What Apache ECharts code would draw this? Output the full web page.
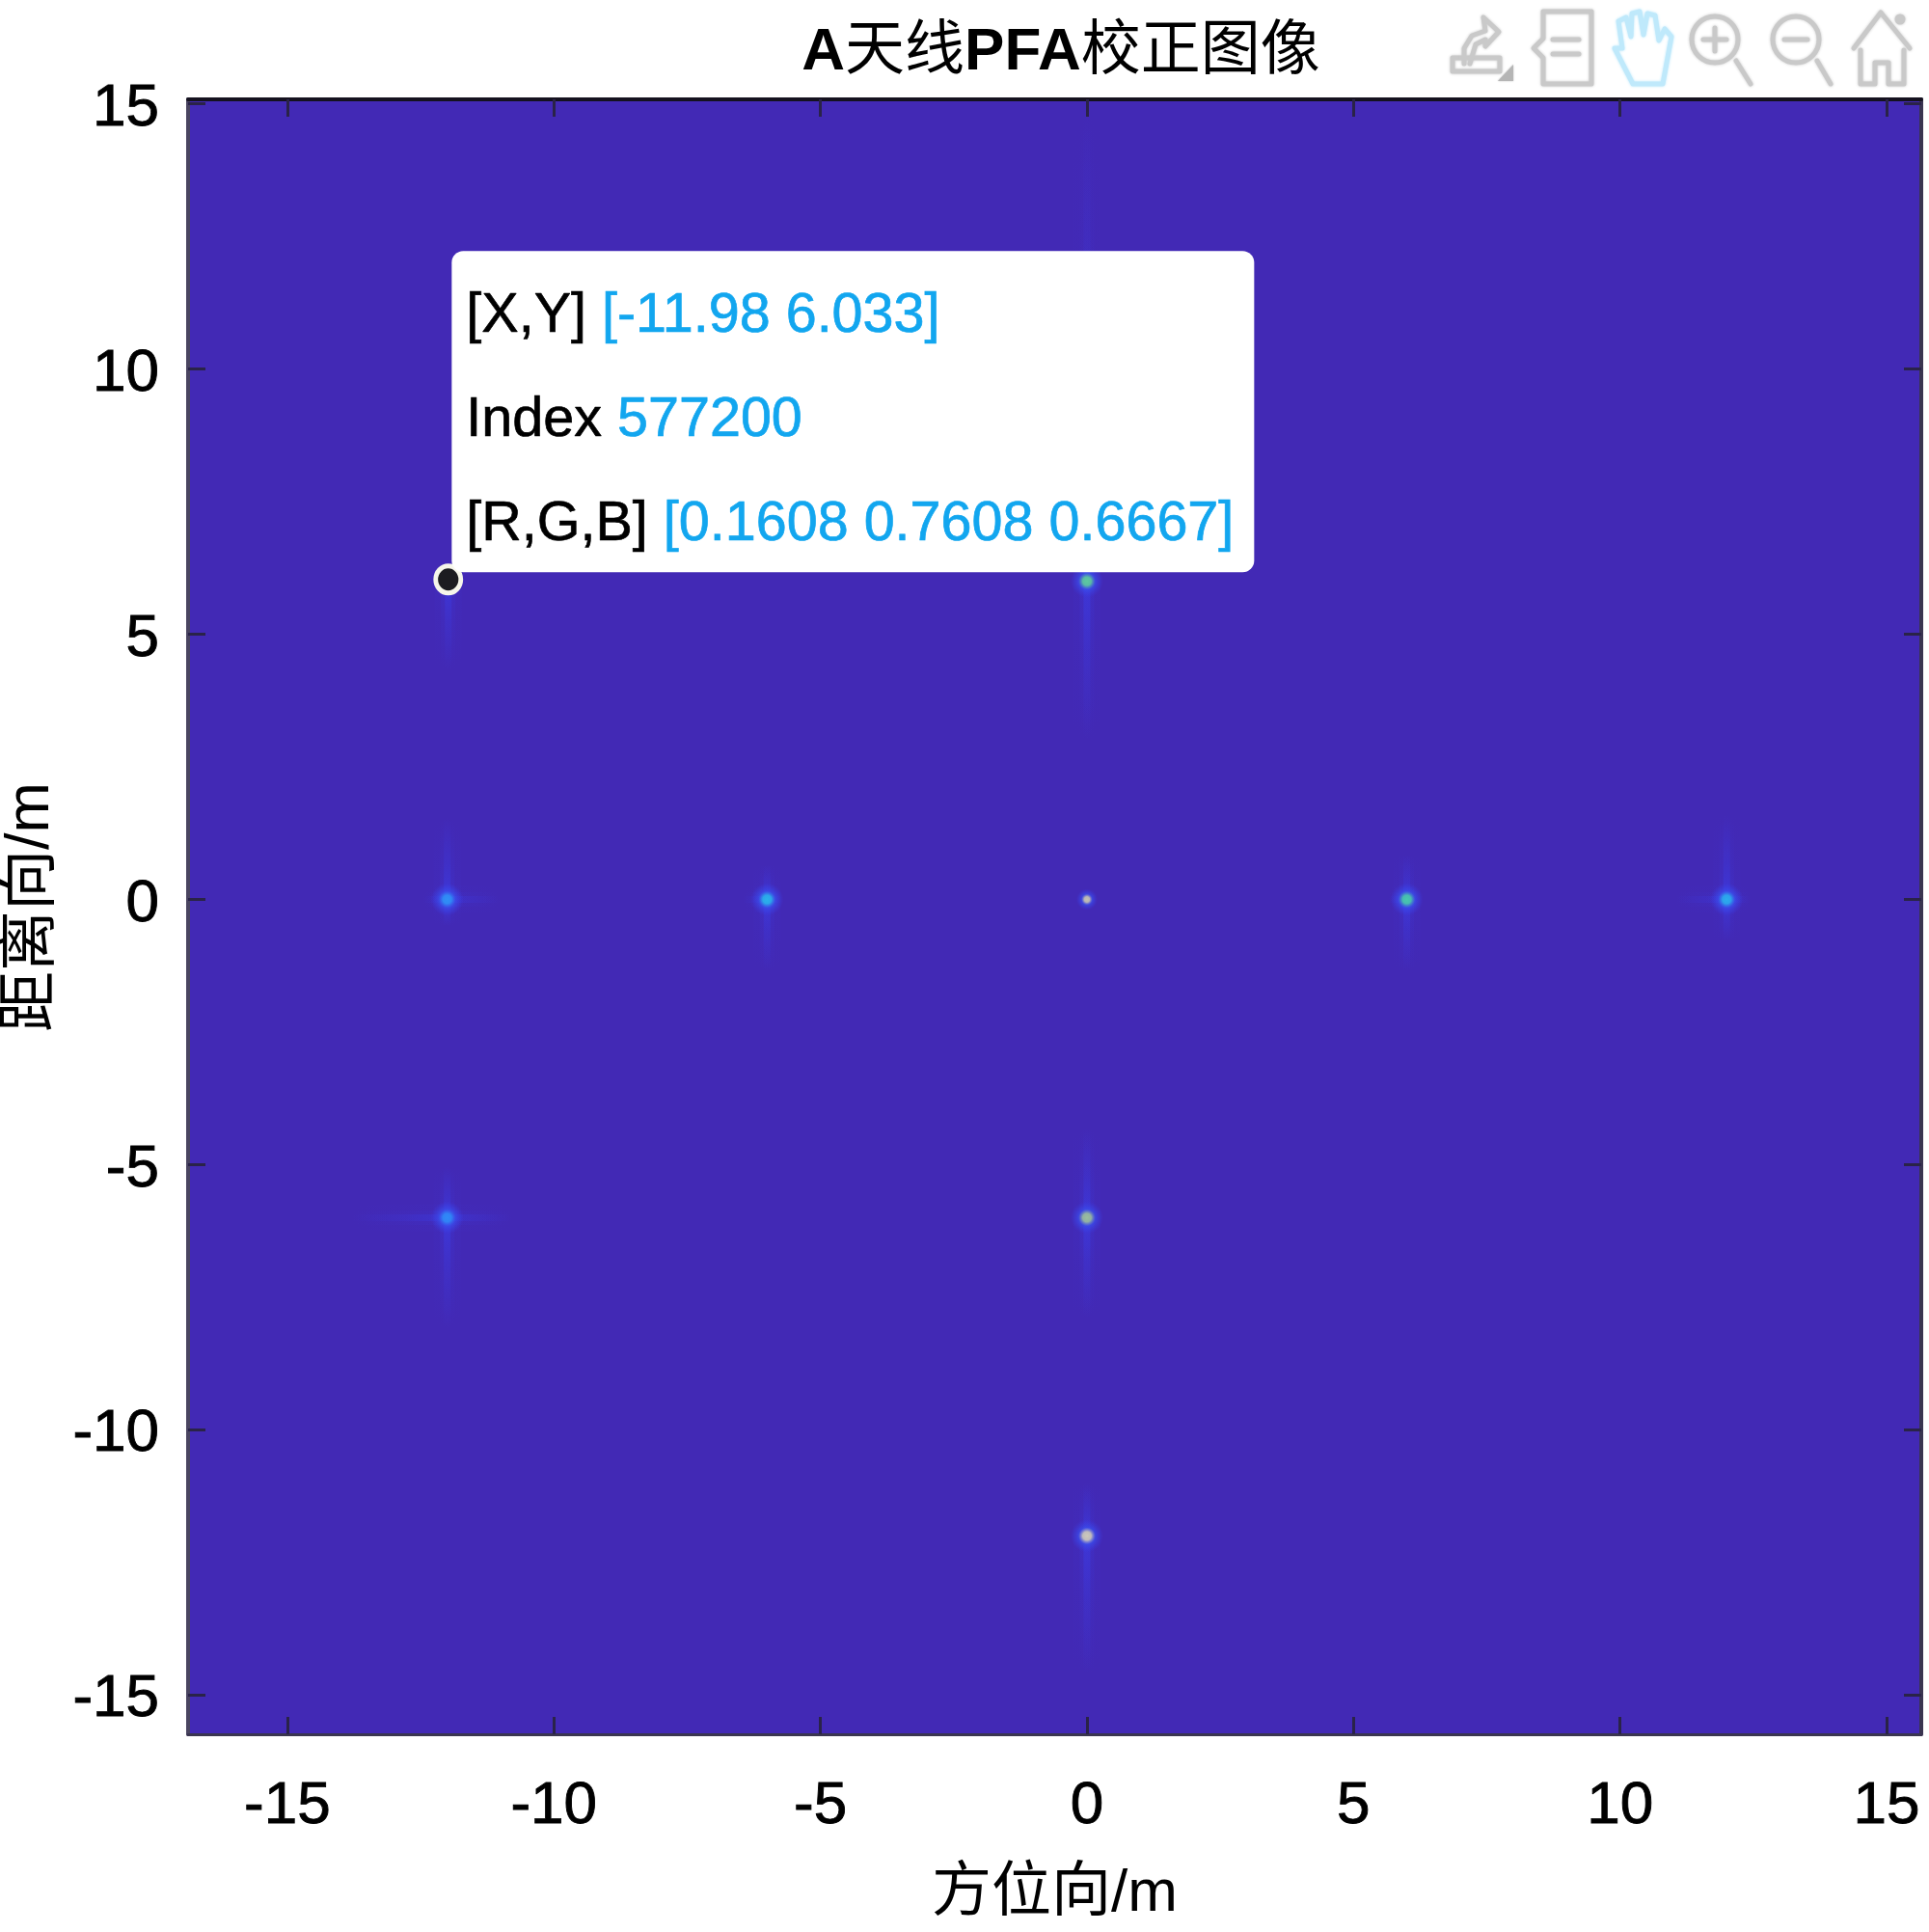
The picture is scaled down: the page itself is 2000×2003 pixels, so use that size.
<!DOCTYPE html>
<html>
<head>
<meta charset="utf-8">
<title>A天线PFA校正图像</title>
<style>html,body{margin:0;padding:0;background:#fff}#chart{width:2000px;height:2003px}</style>
<script src="https://cdn.jsdelivr.net/npm/echarts@6/dist/echarts.min.js"></script>
</head>
<body>
<div id="chart"></div>
<script>
// ---- values ----
const xTicks = [-15, -10, -5, 0, 5, 10, 15];
const yTicks = [-15, -10, -5, 0, 5, 10, 15];
const targetX = [-12, -6, 0, 6, 12, -12, 0, 0, 0, -11.98];
const targetY = [0, 0, 0, 0, 0, -6, -6, -12, 6, 6.033];
const targetLevel = [0.3, 0.42, 0.92, 0.6, 0.4, 0.28, 0.8, 0.95, 0.65, 0.5];
// side-lobe extents from each target, in metres
const lobeUp = [1.55, 0.65, 0, 0.85, 1.6, 0.97, 1.7, 1.0, 8.9, 0];
const lobeDown = [0.5, 1.35, 0, 1.35, 0.8, 2.1, 1.9, 2.6, 3.0, 1.7];
const lobeLeft = [0.45, 0.45, 0, 0.35, 0.95, 1.8, 0, 0.2, 0, 0];
const lobeRight = [1.0, 0.27, 0, 0.2, 0.45, 1.23, 0, 0.2, 0, 0];
const tipX = -11.98;
const tipY = 6.033;
const tipIndex = 577200;
const tipRGB = '0.1608 0.7608 0.6667';

const FONT = "'Liberation Sans','Noto Sans CJK SC',sans-serif";
const BG = '#4229b5';
const palette = ['#3e26a8', '#3a5cf0', '#2f8cf8', '#2ab4ea', '#3cc8b4', '#78cc90', '#b0b4a8', '#dcd4c4'];

function hexRgb(h) { return [1, 3, 5].map(i => parseInt(h.substr(i, 2), 16)); }
function levelColor(v, alpha) {
  const p = Math.min(0.999, v) * (palette.length - 1), i = Math.floor(p), f = p - i;
  const a = hexRgb(palette[i]), b = hexRgb(palette[i + 1]);
  const c = a.map((k, n) => Math.round(k + (b[n] - k) * f));
  return 'rgba(' + c.join(',') + ',' + alpha + ')';
}
const LOBE = '58,62,235';
function lobe(x, y, w, h, vertical, towardStart, alpha) {
  const stops = towardStart
    ? [{ offset: 0, color: 'rgba(' + LOBE + ',0)' }, { offset: 0.6, color: 'rgba(' + LOBE + ',' + alpha * 0.5 + ')' }, { offset: 1, color: 'rgba(' + LOBE + ',' + alpha + ')' }]
    : [{ offset: 0, color: 'rgba(' + LOBE + ',' + alpha + ')' }, { offset: 0.4, color: 'rgba(' + LOBE + ',' + alpha * 0.5 + ')' }, { offset: 1, color: 'rgba(' + LOBE + ',0)' }];
  const fill = vertical ? new echarts.graphic.LinearGradient(0, 0, 0, 1, stops) : new echarts.graphic.LinearGradient(0, 0, 1, 0, stops);
  return { type: 'rect', shape: { x, y, width: w, height: h }, style: { fill } };
}
const targets = targetX.map((x, i) => [x, targetY[i], targetLevel[i], lobeUp[i], lobeDown[i], lobeLeft[i], lobeRight[i]]);

function renderTarget(params, api) {
  const x = api.value(0), y = api.value(1), lv = api.value(2);
  const c = api.coord([x, y]);
  const up = api.coord([x, y + api.value(3)])[1];
  const down = api.coord([x, y - api.value(4)])[1];
  const left = api.coord([x - api.value(5), y])[0];
  const right = api.coord([x + api.value(6), y])[0];
  const kids = [];
  const layers = [[28, 0.07], [15, 0.17], [7, 0.5]];
  layers.forEach(([w, a]) => {
    if (up < c[1]) kids.push(lobe(c[0] - w / 2, up, w, c[1] - up, true, true, a));
    if (down > c[1]) kids.push(lobe(c[0] - w / 2, c[1], w, down - c[1], true, false, a));
    if (left < c[0]) kids.push(lobe(left, c[1] - w / 2, c[0] - left, w, false, true, a * 0.7));
    if (right > c[0]) kids.push(lobe(c[0], c[1] - w / 2, right - c[0], w, false, false, a * 0.7));
  });
  const hasLobes = up < c[1] || down > c[1];
  const halo = hasLobes ? 17 : 11;
  kids.push({
    type: 'circle', shape: { cx: c[0], cy: c[1], r: halo },
    style: {
      fill: new echarts.graphic.RadialGradient(0.5, 0.5, 0.5, [
        { offset: 0, color: levelColor(lv, 1) },
        { offset: 0.26, color: levelColor(lv, 0.9) },
        { offset: 0.52, color: 'rgba(58,80,240,0.65)' },
        { offset: 1, color: 'rgba(58,62,235,0)' }
      ])
    }
  });
  return { type: 'group', children: kids };
}

// toolbar decoration
const GREY = '#c9c9c9', HAND = '#bfe9fb';
function stroke(color, w) { return { stroke: color, fill: null, lineWidth: w || 5, shadowBlur: 3, shadowColor: color, lineCap: 'round', lineJoin: 'round' }; }
function line(pts, color, w) { return { type: 'polyline', silent: true, shape: { points: pts }, style: stroke(color, w) }; }
function ring(cx, cy, r) { return { type: 'circle', silent: true, shape: { cx, cy, r }, style: stroke(GREY) }; }
const toolbar = [
  // insert legend / brush
  line([[1506, 60], [1555, 60], [1555, 74], [1506, 74], [1506, 60]], GREY),
  { type: 'polygon', silent: true, shape: { points: [[1569, 67], [1569, 84], [1553, 84]] }, style: { fill: '#b5b5b5', shadowBlur: 2, shadowColor: '#b5b5b5' } },
  line([[1518, 66], [1518, 50], [1526, 37], [1540, 32], [1538, 18], [1554, 33], [1540, 48], [1540, 41], [1530, 46], [1524, 66]], GREY),
  // data cursor note
  line([[1600, 12], [1650, 12], [1650, 87], [1600, 87], [1600, 60], [1590, 50], [1600, 40], [1600, 12]], GREY),
  line([[1610, 41], [1637, 41]], GREY), line([[1610, 56], [1637, 56]], GREY),
  // hand
  line([[1693, 87], [1724, 87], [1733, 38], [1726, 30], [1720, 42], [1716, 16], [1708, 14], [1704, 36], [1700, 12], [1692, 14], [1691, 38], [1686, 18], [1678, 22], [1682, 50], [1674, 50], [1693, 87]], HAND),
  // zoom in
  ring(1778, 41, 24), line([[1800, 63], [1815, 87]], GREY), line([[1766, 41], [1790, 41]], GREY), line([[1778, 29], [1778, 53]], GREY),
  // zoom out
  ring(1862, 41, 24), line([[1884, 63], [1898, 87]], GREY), line([[1850, 41], [1874, 41]], GREY),
  // home
  line([[1922, 50], [1950, 13], [1980, 50]], GREY),
  line([[1929, 52], [1929, 87], [1944, 87], [1944, 65], [1958, 65], [1958, 87], [1974, 87], [1974, 52]], GREY),
  ring(1970, 20, 3)
];

const DARK = '#2a2348';
const boldish = { textBorderColor: '#000', textBorderWidth: 0.9 };
const option = {
  animation: false,
  backgroundColor: '#fff',
  title: {
    text: '{l|A}{c|天线}{l|PFA}{c|校正图像}',
    left: 1095, top: 19, textAlign: 'center',
    textStyle: {
      rich: {
        l: { fontFamily: FONT, fontWeight: 'bold', fontSize: 62, color: '#000' },
        c: { fontFamily: FONT, fontWeight: 'normal', fontSize: 62, color: '#000' }
      }
    }
  },
  grid: { left: 195, right: 8, top: 103, bottom: 205, show: true, backgroundColor: BG, borderWidth: 0, containLabel: false, outerBoundsMode: 'none' },
  xAxis: [{
    type: 'value', min: -16.86, max: 15.65, position: 'bottom',
    name: '方位向/m', nameLocation: 'middle', nameGap: 135,
    nameTextStyle: { fontFamily: FONT, fontSize: 62, color: '#000' },
    axisLine: { show: true, onZero: false, lineStyle: { color: '#3a3550', width: 3 } },
    axisTick: { show: true, inside: true, length: 18, lineStyle: { color: DARK, width: 3 }, customValues: xTicks },
    axisLabel: Object.assign({ show: true, customValues: xTicks, fontFamily: FONT, fontSize: 62, color: '#000', margin: 44 }, boldish),
    splitLine: { show: false }
  }, {
    type: 'value', min: -16.86, max: 15.65, position: 'top',
    axisLine: { show: true, onZero: false, lineStyle: { color: '#15121f', width: 4 } },
    axisTick: { show: true, inside: true, length: 18, lineStyle: { color: DARK, width: 3 }, customValues: xTicks },
    axisLabel: { show: false }, splitLine: { show: false }
  }],
  yAxis: [{
    type: 'value', min: -15.74, max: 15.085, position: 'left',
    name: '距离向/m', nameLocation: 'middle', nameRotate: 90, nameGap: 129,
    nameTextStyle: { fontFamily: FONT, fontSize: 63, color: '#000', padding: [0, 0, 0, 20] },
    axisLine: { show: true, onZero: false, lineStyle: { color: '#4a4560', width: 4 } },
    axisTick: { show: true, inside: true, length: 18, lineStyle: { color: DARK, width: 3 }, customValues: yTicks },
    axisLabel: {
      show: true, customValues: yTicks, margin: 30,
      formatter: v => '{a|' + v + '}',
      rich: { a: Object.assign({ fontFamily: FONT, fontSize: 62, color: '#000', padding: [10, 0, 0, 0] }, boldish) }
    },
    splitLine: { show: false }
  }, {
    type: 'value', min: -15.74, max: 15.085, position: 'right',
    axisLine: { show: true, onZero: false, lineStyle: { color: '#3a3550', width: 4 } },
    axisTick: { show: true, inside: true, length: 18, lineStyle: { color: DARK, width: 3 }, customValues: yTicks },
    axisLabel: { show: false }, splitLine: { show: false }
  }],
  series: [{
    type: 'custom', name: 'targets', xAxisIndex: 0, yAxisIndex: 0, clip: true, silent: true,
    renderItem: renderTarget, encode: { x: 0, y: 1 }, data: targets, z: 2
  }, {
    type: 'scatter', name: 'data tip', xAxisIndex: 0, yAxisIndex: 0, z: 5, silent: true,
    symbol: 'circle', symbolSize: [26, 28],
    itemStyle: { color: '#1c1c20', borderColor: '#f6f6ea', borderWidth: 5, opacity: 1 },
    data: [[tipX, tipY]],
    label: {
      show: true,
      position: [19, -324],
      formatter: () => [
        '{k|[X,Y]\u00a0}{v|[' + tipX + ' ' + tipY + ']}',
        '{k|Index\u00a0}{v|' + tipIndex + '}',
        '{k|[R,G,B]\u00a0}{v|[' + tipRGB + ']}'
      ].join('\n'),
      align: 'left', verticalAlign: 'top',
      backgroundColor: '#fff', borderRadius: 12,
      width: 802, height: 314,
      padding: [14, 15, 5, 15],
      rich: {
        k: { fontFamily: FONT, fontSize: 57.5, color: '#000', lineHeight: 108, textBorderColor: '#000', textBorderWidth: 0.7 },
        v: { fontFamily: FONT, fontSize: 57.5, color: '#12a6ef', lineHeight: 108, textBorderColor: '#12a6ef', textBorderWidth: 0.7 }
      }
    }
  }],
  graphic: { elements: toolbar }
};
const chart = echarts.init(document.getElementById('chart'), null, { renderer: 'canvas', width: 2000, height: 2003 });
chart.setOption(option);
</script>
</body>
</html>
